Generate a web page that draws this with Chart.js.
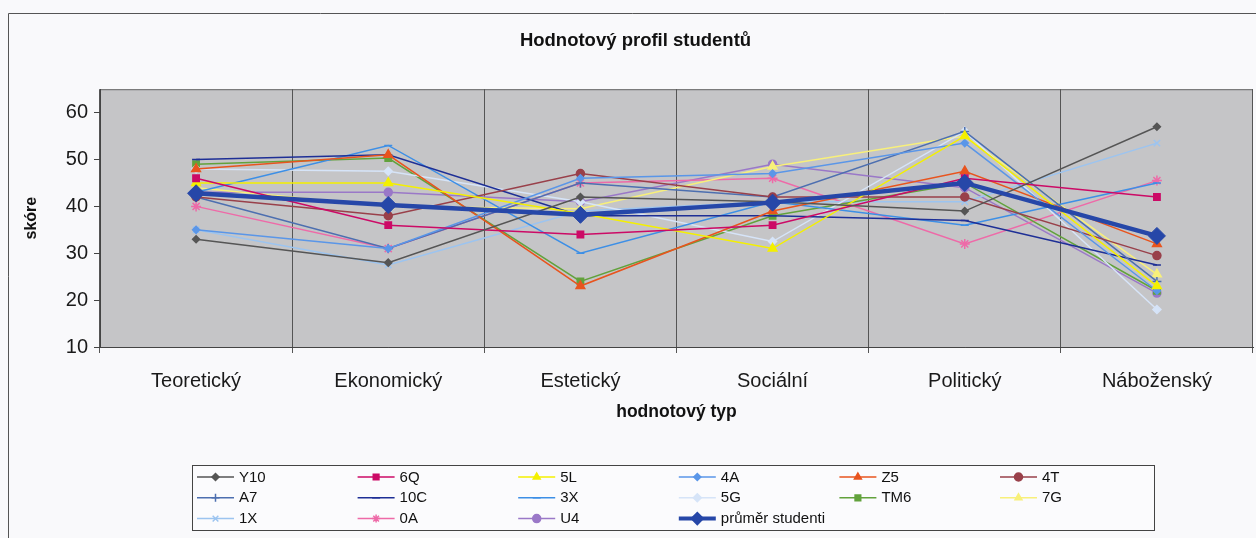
<!DOCTYPE html>
<html>
<head>
<meta charset="utf-8">
<style>
  html, body { margin: 0; padding: 0; background: #f9f9fb; }
  canvas { display: block; }
</style>
<script src="https://cdn.jsdelivr.net/npm/chart.js@4.4.1/dist/chart.umd.min.js"></script>
</head>
<body>
<canvas id="c" width="1256" height="538" style="width:1256px;height:538px"></canvas>
<script>
// ---- data ----
const categories = ['Teoretický', 'Ekonomický', 'Estetický', 'Sociální', 'Politický', 'Náboženský'];
const yTicks = [10, 20, 30, 40, 50, 60];
const seriesNames = ['Y10', '6Q', '5L', '4A', 'Z5', '4T', 'A7', '10C', '3X', '5G', 'TM6', '7G', '1X', '0A', 'U4', 'průměr studenti'];

const Y10 = [33, 28, 42, 41, 39, 57];
const Q6  = [46, 36, 34, 36, 46, 42];
const L5  = [45, 45, 38.5, 31, 55, 23];
const A4  = [35, 31, 46, 47, 53.5, 22];
const Z5  = [48, 51, 23, 39, 47.5, 32];
const T4  = [42, 38, 47, 42, 42, 29.5];
const A7  = [42, 31, 45, 42, 56, 24];
const C10 = [50, 51, 38, 38, 37, 27.5];
const X3  = [43, 53, 30, 41, 36, 45];
const G5  = [48, 47.5, 41, 32.5, 56, 18];
const TM6 = [49, 50.3, 24, 38, 45, 22];
const G7  = [44, 40, 39.5, 48.5, 55, 25.5];
const X1  = [35, 27.5, 39, 41, 41, 53.5];
const A0  = [40, 31, 45, 46, 32, 45.5];
const U4  = [43, 43, 41, 49, 44, 21.5];
const prumer = [42.8, 40.3, 38.2, 40.8, 45, 33.7];

const seriesValues = [Y10, Q6, L5, A4, Z5, T4, A7, C10, X3, G5, TM6, G7, X1, A0, U4, prumer];

// ---- styles ----
const styles = [
  { c: '#555555', p: 'rectRot', r: 3.5 },
  { c: '#cc0a66', p: 'rect', r: 4.5 },
  { c: '#f4f000', p: 'triangle', r: 5 },
  { c: '#5a96e8', p: 'rectRot', r: 3.5 },
  { c: '#e8541e', p: 'triangle', r: 5 },
  { c: '#99404a', p: 'circle', r: 4 },
  { c: '#4d6fb0', p: 'cross', r: 4.5 },
  { c: '#1e2f96', p: 'line', r: 4 },
  { c: '#3d8fe6', p: 'line', r: 4 },
  { c: '#d6e4f8', p: 'rectRot', r: 4 },
  { c: '#62a23c', p: 'rect', r: 4.5 },
  { c: '#f8f07a', p: 'triangle', r: 5 },
  { c: '#9cc4f0', p: 'crossRot', r: 4.5 },
  { c: '#ee6aa8', p: 'star', r: 5 },
  { c: '#9a78c8', p: 'circle', r: 4 },
  { c: '#2647a8', p: 'rectRot', r: 8.5, w: 4.5 }
];

const datasets = seriesNames.map((name, i) => {
  const s = styles[i];
  const isAvg = i === seriesNames.length - 1;
  return {
    label: name,
    data: seriesValues[i],
    borderColor: s.c,
    backgroundColor: s.c,
    pointBackgroundColor: s.c,
    pointBorderColor: s.c,
    pointStyle: s.p,
    pointRadius: s.r,
    pointBorderWidth: isAvg ? 1 : 1.5,
    borderWidth: s.w || 1.5,
    tension: 0,
    fill: false,
    order: isAvg ? 0 : 1
  };
});

const FONT = "'Liberation Sans', Arial, sans-serif";

const framePlugin = {
  id: 'framePlugin',
  beforeDraw(chart) {
    const ctx = chart.ctx;
    const a = chart.chartArea;
    ctx.save();
    ctx.fillStyle = '#f9f9fb';
    ctx.fillRect(0, 0, chart.width, chart.height);
    // outer chart frame
    ctx.strokeStyle = '#555';
    ctx.lineWidth = 1;
    ctx.beginPath();
    ctx.moveTo(8.5, chart.height + 2);
    ctx.lineTo(8.5, 13.5);
    ctx.lineTo(chart.width + 2, 13.5);
    ctx.stroke();
    // plot area
    ctx.fillStyle = '#c5c5c7';
    ctx.fillRect(a.left, a.top, a.right - a.left, a.bottom - a.top);
    ctx.strokeStyle = '#666';
    ctx.strokeRect(a.left + 0.5, a.top + 0.5, a.right - a.left - 1, a.bottom - a.top);
    ctx.restore();
  },
  afterDraw(chart) {
    const ctx = chart.ctx;
    ctx.save();
    // legend box
    const bx = 192.5, by = 465.5, bw = 962, bh = 65;
    ctx.fillStyle = '#fbfbfd';
    ctx.fillRect(bx, by, bw, bh);
    ctx.strokeStyle = '#444';
    ctx.lineWidth = 1;
    ctx.strokeRect(bx, by, bw, bh);
    ctx.font = '15px ' + FONT;
    ctx.textBaseline = 'middle';
    ctx.textAlign = 'left';
    chart.data.datasets.forEach((ds, i) => {
      const col = i % 6, row = Math.floor(i / 6);
      const x0 = 197 + col * 160.6;
      const y = 477 + row * 20.8;
      const isAvg = i === chart.data.datasets.length - 1;
      ctx.strokeStyle = ds.borderColor;
      ctx.lineWidth = isAvg ? 4 : 1.5;
      ctx.beginPath();
      ctx.moveTo(x0, y);
      ctx.lineTo(x0 + 37, y);
      ctx.stroke();
      ctx.fillStyle = ds.pointBackgroundColor;
      ctx.strokeStyle = ds.pointBorderColor;
      ctx.lineWidth = 1.5;
      if (Chart.helpers && Chart.helpers.drawPoint) {
        Chart.helpers.drawPoint(ctx, {
          pointStyle: ds.pointStyle,
          radius: isAvg ? 6 : Math.min(ds.pointRadius, 4),
          borderWidth: 1.5,
          rotation: 0
        }, x0 + 18.5, y);
      }
      ctx.fillStyle = '#111';
      ctx.fillText(ds.label, x0 + 42, y + 0.5);
    });
    ctx.restore();
  }
};

new Chart(document.getElementById('c'), {
  type: 'line',
  data: { labels: categories, datasets: datasets },
  plugins: [framePlugin],
  options: {
    responsive: false,
    animation: false,
    devicePixelRatio: 1,
    layout: { autoPadding: false, padding: { left: 18, right: 3, top: 0, bottom: 111 } },
    plugins: {
      legend: { display: false },
      tooltip: { enabled: false },
      title: {
        display: true,
        text: 'Hodnotový profil studentů',
        color: '#111',
        font: { family: FONT, size: 18.5, weight: 'bold' },
        padding: { top: 30, bottom: 37 }
      }
    },
    scales: {
      x: {
        type: 'category',
        offset: true,
        afterFit(s) { s.height = 80; s.paddingRight = 0; s.paddingLeft = 0; },
        grid: {
          display: true,
          offset: true,
          drawOnChartArea: true,
          drawTicks: true,
          tickLength: 6,
          color: '#555',
          lineWidth: 1
        },
        border: { display: true, color: '#444', width: 1 },
        ticks: {
          color: '#1a1a1a',
          font: { family: FONT, size: 20 },
          padding: 16,
          maxRotation: 0,
          autoSkip: false
        },
        title: {
          display: true,
          text: 'hodnotový typ',
          color: '#111',
          font: { family: FONT, size: 17.5, weight: 'bold' },
          padding: { top: 4, bottom: 4 }
        }
      },
      y: {
        min: 10,
        max: 65,
        afterFit(s) { s.width = 82; },
        afterBuildTicks(s) { s.ticks = yTicks.map(v => ({ value: v })); },
        grid: {
          display: true,
          drawOnChartArea: false,
          drawTicks: true,
          tickLength: 6,
          color: '#444'
        },
        border: { display: true, color: '#444', width: 1 },
        ticks: {
          color: '#1a1a1a',
          font: { family: FONT, size: 20 },
          padding: 6
        },
        title: {
          display: true,
          text: 'skóre',
          color: '#111',
          font: { family: FONT, size: 16, weight: 'bold' },
          padding: 4
        }
      }
    }
  }
});
</script>
</body>
</html>
